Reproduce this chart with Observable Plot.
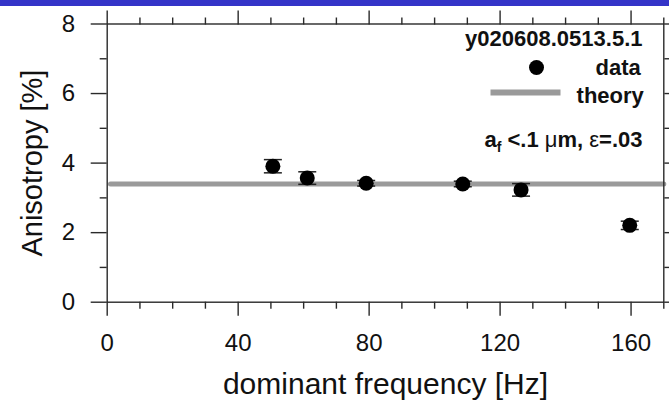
<!DOCTYPE html>
<html>
<head>
<meta charset="utf-8">
<script src="https://cdn.jsdelivr.net/npm/d3@7"></script>
<script src="https://cdn.jsdelivr.net/npm/@observablehq/plot@0.6"></script>
<style>
  html, body { margin: 0; padding: 0; background: #fff; }
  #wrap { position: relative; width: 669px; height: 400px; overflow: hidden; background: #fff; }
  #wrap svg { position: absolute; left: 0; top: 0; }
  #bar { position: absolute; left: 0; top: 0; width: 669px; height: 6px; background: #3434c8; z-index: 2; }
</style>
</head>
<body>
<div id="wrap"><div id="bar"></div></div>
<script>
// ---- data ----
const frequency = [50.6, 61.1, 79.1, 108.6, 126.4, 159.6];
const anisotropy = [3.91, 3.57, 3.42, 3.40, 3.23, 2.21];
const errors = [0.19, 0.18, 0.08, 0.08, 0.18, 0.12];
const theoryFrequency = [1, 170];
const theoryAnisotropy = [3.40, 3.40];
const xMajorTicks = [0, 40, 80, 120, 160];
const xMinorTicks = [10, 20, 30, 50, 60, 70, 90, 100, 110, 130, 140, 150, 170];
const yMajorTicks = [0, 2, 4, 6, 8];
const yMinorTicks = [1, 3, 5, 7];
const xLabel = "dominant frequency [Hz]";
const yLabel = "Anisotropy [%]";
const runId = "y020608.0513.5.1";
const legendLabels = ["data", "theory"];
const annotation = "a_f <.1 μm, ε=.03";

// ---- tables built from the arrays ----
const points = frequency.map((f, i) => ({f, a: anisotropy[i], e: errors[i]}));
const theory = theoryFrequency.map((f, i) => ({f, a: theoryAnisotropy[i]}));

const capSymbol = {draw(ctx) { ctx.moveTo(-9, 0); ctx.lineTo(9, 0); }};
const barSymbol = {draw(ctx) { ctx.moveTo(-35, -3); ctx.lineTo(35, -3); ctx.lineTo(35, 3); ctx.lineTo(-35, 3); ctx.closePath(); }};

const axisStroke = "#2a2a2a";
const textFill = "#111";
const font = "'Liberation Sans', Arial, Helvetica, sans-serif";

const chart = Plot.plot({
  width: 669,
  height: 400,
  marginTop: 23.5,
  marginBottom: 98.3,
  marginLeft: 106.7,
  marginRight: 5.7,
  style: {fontFamily: font, background: "transparent", color: textFill},
  x: {domain: [0, 170], label: null},
  y: {domain: [0, 8], label: null},
  marks: [
    // theory line
    Plot.line(theory, {x: "f", y: "a", stroke: "#9a9a9a", strokeWidth: 5}),
    // error bars
    Plot.ruleX(points, {x: "f", y1: d => d.a - d.e, y2: d => d.a + d.e, stroke: "#222", strokeWidth: 1.5}),
    Plot.dot(points, {x: "f", y: d => d.a + d.e, symbol: capSymbol, fill: "none", stroke: "#222", strokeWidth: 1.5}),
    Plot.dot(points, {x: "f", y: d => d.a - d.e, symbol: capSymbol, fill: "none", stroke: "#222", strokeWidth: 1.5}),
    // data points
    Plot.dot(points, {x: "f", y: "a", r: 7.5, fill: "#000", stroke: "none"}),
    // frame
    Plot.frame({stroke: axisStroke, strokeWidth: 1.4}),
    // bottom axis
    Plot.axisX({ticks: xMajorTicks, tickSize: 14, tickPadding: 18, fontSize: 24, label: null, stroke: axisStroke, fill: textFill, strokeWidth: 1.4}),
    Plot.axisX({ticks: xMinorTicks, tickSize: 7, text: null, label: null, stroke: axisStroke, strokeWidth: 1.4}),
    // top axis
    Plot.axisX({anchor: "top", ticks: xMajorTicks, tickSize: 14, text: null, label: null, stroke: axisStroke, strokeWidth: 1.4}),
    Plot.axisX({anchor: "top", ticks: xMinorTicks, tickSize: 7, text: null, label: null, stroke: axisStroke, strokeWidth: 1.4}),
    // left axis
    Plot.axisY({ticks: yMajorTicks, tickSize: 16, tickPadding: 16, fontSize: 24, label: null, stroke: axisStroke, fill: textFill, strokeWidth: 1.4}),
    Plot.axisY({ticks: yMinorTicks, tickSize: 7, text: null, label: null, stroke: axisStroke, strokeWidth: 1.4}),
    // right axis
    Plot.axisY({anchor: "right", ticks: yMajorTicks, tickSize: 14, text: null, label: null, stroke: axisStroke, strokeWidth: 1.4}),
    Plot.axisY({anchor: "right", ticks: yMinorTicks, tickSize: 7, text: null, label: null, stroke: axisStroke, strokeWidth: 1.4}),
    // axis titles
    Plot.text([xLabel], {text: d => d, frameAnchor: "bottom", textAnchor: "middle", lineAnchor: "bottom", dy: 91.6, fontSize: 30, fill: textFill}),
    Plot.text([yLabel], {text: d => d, frameAnchor: "left", textAnchor: "middle", lineAnchor: "bottom", rotate: -90, dx: -65, fontSize: 29, fill: textFill}),
    // legend / annotations
    Plot.text([runId], {text: d => d, frameAnchor: "top-right", textAnchor: "end", lineAnchor: "bottom", dx: -21.3, dy: 22, fontSize: 22, fontWeight: "bold", fill: textFill}),
    Plot.text([legendLabels[0]], {text: d => d, frameAnchor: "top-right", textAnchor: "end", lineAnchor: "bottom", dx: -23, dy: 50.5, fontSize: 22, fontWeight: "bold", fill: textFill}),
    Plot.text([legendLabels[1]], {text: d => d, frameAnchor: "top-right", textAnchor: "end", lineAnchor: "bottom", dx: -20, dy: 78.5, fontSize: 22, fontWeight: "bold", fill: textFill}),
    Plot.dot([legendLabels[0]], {frameAnchor: "top-right", dx: -127.3, dy: 43.5, r: 7.5, fill: "#000", stroke: "none"}),
    Plot.dot([legendLabels[1]], {frameAnchor: "top-right", dx: -138.3, dy: 68.5, symbol: barSymbol, fill: "#9a9a9a", stroke: "none"}),
    Plot.text([annotation], {text: d => d, frameAnchor: "top-right", textAnchor: "end", lineAnchor: "bottom", dx: -21.3, dy: 122.5, fontSize: 22, fontWeight: "bold", fill: textFill})
  ]
});

// rich text for the annotation: subscript f, upright μ and ε
d3.select(chart).selectAll("text").each(function() {
  if (this.textContent === annotation) {
    const t = d3.select(this);
    t.text(null);
    t.append("tspan").text("a");
    t.append("tspan").attr("dy", 5).attr("font-size", 14).text("f");
    t.append("tspan").attr("dy", -5).text(" <.1 ");
    t.append("tspan").attr("font-weight", "normal").text("μ");
    t.append("tspan").text("m, ");
    t.append("tspan").attr("font-weight", "normal").text("ε");
    t.append("tspan").text("=.03");
  }
});

document.getElementById("wrap").appendChild(chart);
</script>
</body>
</html>
